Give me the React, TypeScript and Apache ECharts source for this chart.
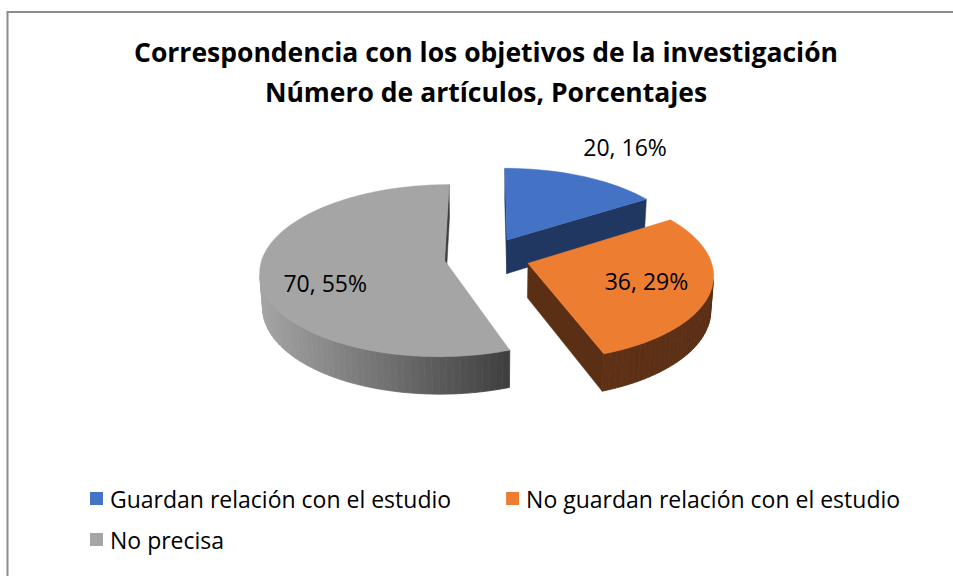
import React, { useEffect, useRef } from "react";
import * as echarts from "echarts";

// ---- data ----
const categories = [
  "Guardan relación con el estudio",
  "No guardan relación con el estudio",
  "No precisa",
];
const counts = [20, 36, 70];
const percentLabels = ["16%", "29%", "55%"];
const titleLines = [
  "Correspondencia con los objetivos de la investigación",
  "Número de artículos, Porcentajes",
];

// ---- styles ----
const topColors = ["#4472C4", "#ED7D31", "#A5A5A5"];
const sideLight = ["#213965", "#5e3116", "#a4a4a4"];
const sideDark = ["#203762", "#5b2f14", "#3e3e3e"];
const labelRadius = [1.5, 0.62, 0.64];
const labelDx = [10, 7, -2];
const labelDy = [-2, 0, 13];
const FONT = "'Open Sans', 'DejaVu Sans', sans-serif";

const CAM = {
  cx: 487,
  cy: 257,
  fx: 1375,
  fy: 1397,
  d: 7.55,
  tilt: (27 * Math.PI) / 180,
  thick: 0.21,
  explode: 0.235,
};

function proj(u: number, v: number, h: number): number[] {
  const ca = Math.cos(CAM.tilt);
  const sa = Math.sin(CAM.tilt);
  const z = CAM.d + v * ca - h * sa;
  return [CAM.cx + (CAM.fx * u) / z, CAM.cy - (CAM.fy * (v * sa + h * ca)) / z];
}

function hexToRgb(h: string) {
  const n = parseInt(h.slice(1), 16);
  return [(n >> 16) & 255, (n >> 8) & 255, n & 255];
}
function lerpColor(a: string, b: string, t: number) {
  const x = hexToRgb(a);
  const y = hexToRgb(b);
  const c = x.map((v, i) => Math.round(v + (y[i] - v) * t));
  return `rgb(${c[0]},${c[1]},${c[2]})`;
}

function makeRenderItem(idx: number) {
  return (params: any, api: any) => {
    const value = api.value(0);
    const total = counts.reduce((a, b) => a + b, 0);
    const before = counts.slice(0, idx).reduce((a, b) => a + b, 0);
    const ts = (before / total) * Math.PI * 2;
    const te = ts + (value / total) * Math.PI * 2;
    const tm = (ts + te) / 2;
    const ou = CAM.explode * Math.sin(tm);
    const ov = CAM.explode * Math.cos(tm);
    const T = CAM.thick;
    const camV = -CAM.d * Math.cos(CAM.tilt);

    const n = Math.max(8, Math.ceil((te - ts) / ((2 * Math.PI) / 180)));
    const angles: number[] = [];
    for (let k = 0; k <= n; k++) angles.push(ts + ((te - ts) * k) / n);
    const top = angles.map((a) => proj(ou + Math.sin(a), ov + Math.cos(a), 0));
    const bot = angles.map((a) => proj(ou + Math.sin(a), ov + Math.cos(a), -T));
    const apexTop = proj(ou, ov, 0);
    const apexBot = proj(ou, ov, -T);

    const children: any[] = [];

    // outer wall quads (visible ones)
    const quads: { pts: number[][] }[] = [];
    for (let k = 0; k < n; k++) {
      const am = (angles[k] + angles[k + 1]) / 2;
      const pu = ou + Math.sin(am);
      const pv = ov + Math.cos(am);
      const dot = Math.sin(am) * (0 - pu) + Math.cos(am) * (camV - pv);
      if (dot > 0) {
        quads.push({ pts: [top[k], top[k + 1], bot[k + 1], bot[k]] });
      }
    }
    let xMin = Infinity;
    let xMax = -Infinity;
    quads.forEach((q) =>
      q.pts.forEach((p) => {
        xMin = Math.min(xMin, p[0]);
        xMax = Math.max(xMax, p[0]);
      })
    );
    quads.forEach((q) => {
      const xm = (q.pts[0][0] + q.pts[1][0]) / 2;
      const t = xMax > xMin ? (xm - xMin) / (xMax - xMin) : 1;
      const col = lerpColor(sideLight[idx], sideDark[idx], t);
      children.push({
        type: "polygon",
        shape: { points: q.pts },
        style: { fill: col, stroke: col, lineWidth: 0.8 },
      });
    });

    // radial faces
    const dotS = -Math.cos(ts) * (0 - ou) + Math.sin(ts) * (camV - ov);
    if (dotS > 0) {
      const col = sideLight[idx];
      children.push({
        type: "polygon",
        shape: { points: [apexTop, top[0], bot[0], apexBot] },
        style: { fill: col, stroke: col, lineWidth: 0.5 },
      });
    }
    const dotE = Math.cos(te) * (0 - ou) - Math.sin(te) * (camV - ov);
    if (dotE > 0) {
      const col = sideDark[idx];
      children.push({
        type: "polygon",
        shape: { points: [apexTop, top[n], bot[n], apexBot] },
        style: { fill: col, stroke: col, lineWidth: 0.5 },
      });
    }

    // top face
    children.push({
      type: "polygon",
      shape: { points: [apexTop, ...top] },
      style: { fill: topColors[idx], stroke: topColors[idx], lineWidth: 0.5 },
    });

    // label
    const lr = labelRadius[idx];
    const lp = proj(ou + lr * Math.sin(tm), ov + lr * Math.cos(tm), 0);
    children.push({
      type: "text",
      style: {
        text: `${value}, ${percentLabels[idx]}`,
        x: lp[0] + labelDx[idx],
        y: lp[1] + labelDy[idx],
        fill: "#000000",
        fontSize: 23,
        fontFamily: FONT,
        align: "center",
        verticalAlign: "middle",
      },
    });

    return { type: "group", children };
  };
}

export default function App() {
  const ref = useRef<HTMLDivElement>(null);
  useEffect(() => {
    if (!ref.current) return;
    const chart = echarts.init(ref.current, undefined, { renderer: "svg" });
    const series = categories.map((name, i) => ({
      type: "custom",
      name,
      coordinateSystem: "none",
      silent: true,
      itemStyle: { color: topColors[i] },
      data: [[counts[i]]],
      renderItem: makeRenderItem(i),
    }));
    const titleStyle = {
      fontSize: 26.5,
      fontWeight: "bold",
      fontFamily: FONT,
      fill: "#000000",
      align: "center",
      verticalAlign: "middle",
    };
    const legendText = {
      fontSize: 23,
      fontFamily: FONT,
      color: "#000",
      padding: [0, 0, 0, 2],
    };
    chart.setOption({
      animation: false,
      backgroundColor: "#ffffff",
      graphic: [
        {
          type: "rect",
          shape: { x: 7.5, y: 12, width: 1000, height: 700 },
          style: { fill: "none", stroke: "#8c8c8c", lineWidth: 2 },
          z: 0,
        },
        {
          type: "text",
          x: 486,
          y: 52,
          style: { text: titleLines[0], ...titleStyle },
        },
        {
          type: "text",
          x: 486,
          y: 92,
          style: { text: titleLines[1], ...titleStyle },
        },
      ],
      legend: [
        {
          data: [categories[0], categories[1]],
          left: 85,
          top: 482,
          icon: "rect",
          itemWidth: 13,
          itemHeight: 13,
          itemGap: 55,
          selectedMode: false,
          textStyle: legendText,
        },
        {
          data: [categories[2]],
          left: 85,
          top: 523,
          icon: "rect",
          itemWidth: 13,
          itemHeight: 13,
          selectedMode: false,
          textStyle: legendText,
        },
      ],
      series,
    });
    return () => chart.dispose();
  }, []);
  return (
    <div
      ref={ref}
      style={{ position: "fixed", left: 0, top: 0, width: 953, height: 576 }}
    />
  );
}
